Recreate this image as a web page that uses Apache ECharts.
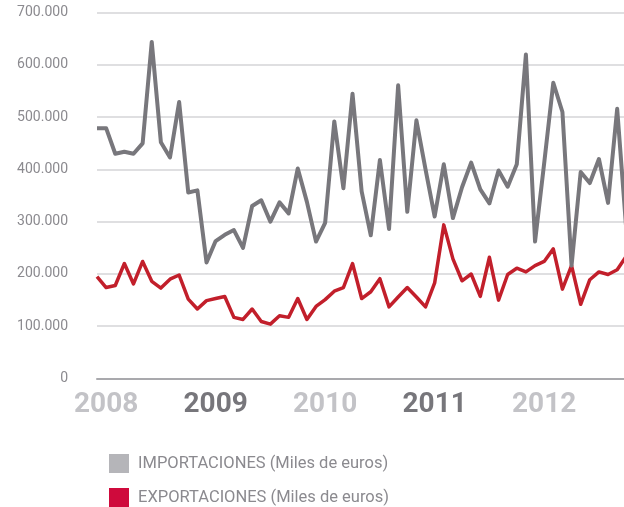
<html>
<head>
    <meta charset="UTF-8">
    <title>Importaciones y exportaciones</title>
    <script src="https://cdn.jsdelivr.net/npm/echarts@6/dist/echarts.min.js"></script>
    <style>
        body { margin: 0; background: #fff; }
    </style>
</head>
<body>
<div id="container" style="width: 624px;height:507px;"></div>
<script>
    // miles de euros, mensual desde enero 2008
    var years = ['2008', '2009', '2010', '2011', '2012'];
    var importaciones = [
        479000, 479000, 430000, 434000, 430000, 450000, 644000, 452000, 423000, 529000, 356000, 360000,
        222000, 263000, 275000, 284000, 250000, 330000, 341000, 300000, 337000, 316000, 402000, 338000,
        262000, 298000, 492000, 364000, 545000, 358000, 274000, 418000, 286000, 561000, 319000, 494000,
        400000, 310000, 410000, 307000, 366000, 413000, 362000, 335000, 398000, 367000, 410000, 620000,
        262000, 412000, 566000, 510000, 216000, 395000, 374000, 420000, 336000, 516000, 285000
    ];
    var exportaciones = [
        195000, 174000, 178000, 220000, 181000, 224000, 186000, 173000, 190000, 198000, 152000, 133000,
        149000, 153000, 157000, 117000, 113000, 133000, 109000, 104000, 120000, 117000, 153000, 113000,
        138000, 151000, 167000, 174000, 220000, 153000, 166000, 191000, 137000, 156000, 174000, 156000,
        137000, 183000, 294000, 229000, 187000, 200000, 157000, 232000, 150000, 199000, 211000, 204000,
        216000, 224000, 248000, 171000, 216000, 142000, 189000, 204000, 199000, 208000, 234000
    ];

    var meses = [];
    for (var i = 0; i < importaciones.length; i++) {
        meses.push(years[Math.floor(i / 12)] + '-' + (i % 12 + 1));
    }

    var mycharts = echarts.init(document.getElementById('container'));

    // estilo comun de las dos leyendas
    function leyenda(top, nombre, color) {
        return {
            left: 109,
            top: top,
            padding: 0,
            icon: 'rect',
            itemWidth: 20,
            itemHeight: 19,
            textStyle: { color: '#8b8a8f', fontSize: 16.5, fontFamily: 'Roboto', padding: [0, 0, 0, 4] },
            data: [{ name: nombre, itemStyle: { color: color } }]
        };
    }

    var option = {
        animation: false,
        // la serie sigue un poco mas alla del borde derecho
        grid: { left: 97, right: -2.3, top: 12.7, bottom: 128.5, outerBoundsMode: 'none' },
        legend: [
            leyenda(454, 'IMPORTACIONES (Miles de euros)', '#b5b5b9'),
            leyenda(488, 'EXPORTACIONES (Miles de euros)', '#cf0a3c')
        ],
        xAxis: {
            type: 'category',
            data: meses,
            boundaryGap: false,
            axisLine: { lineStyle: { color: '#a9a9ad', width: 2 } },
            axisTick: { show: false },
            axisLabel: {
                interval: function (index) { return index % 12 === 1; },
                margin: 12,
                formatter: function (value, index) {
                    var y = value.split('-')[0];
                    return (years.indexOf(y) % 2 === 0 ? '{a|' : '{b|') + y + '}';
                },
                rich: {
                    a: { color: '#c3c3c7', fontSize: 28, fontWeight: 'bold', fontFamily: 'Roboto' },
                    b: { color: '#77767b', fontSize: 28, fontWeight: 'bold', fontFamily: 'Roboto' }
                }
            },
            splitLine: { show: false }
        },
        yAxis: {
            type: 'value',
            min: 0,
            max: 700000,
            interval: 100000,
            axisLine: { show: false },
            axisTick: { show: false },
            axisLabel: {
                margin: 29,
                color: '#8b8a8f',
                fontSize: 14,
                fontFamily: 'Roboto',
                padding: [4, 0, 0, 0],
                formatter: function (v) { return v === 0 ? '0' : (v / 1000) + '.000'; }
            },
            splitLine: { lineStyle: { color: '#d5d5d7', width: 1.5 } }
        },
        series: [
            {
                name: 'EXPORTACIONES (Miles de euros)',
                type: 'line',
                data: exportaciones,
                showSymbol: false,
                lineStyle: { color: '#c21f2b', width: 3.5, join: 'round' },
                itemStyle: { color: '#cf0a3c' }
            },
            {
                name: 'IMPORTACIONES (Miles de euros)',
                type: 'line',
                data: importaciones,
                showSymbol: false,
                lineStyle: { color: '#78777c', width: 4, join: 'round' },
                itemStyle: { color: '#b5b5b9' }
            }
        ]
    };

    mycharts.setOption(option);
</script>
</body>
</html>
